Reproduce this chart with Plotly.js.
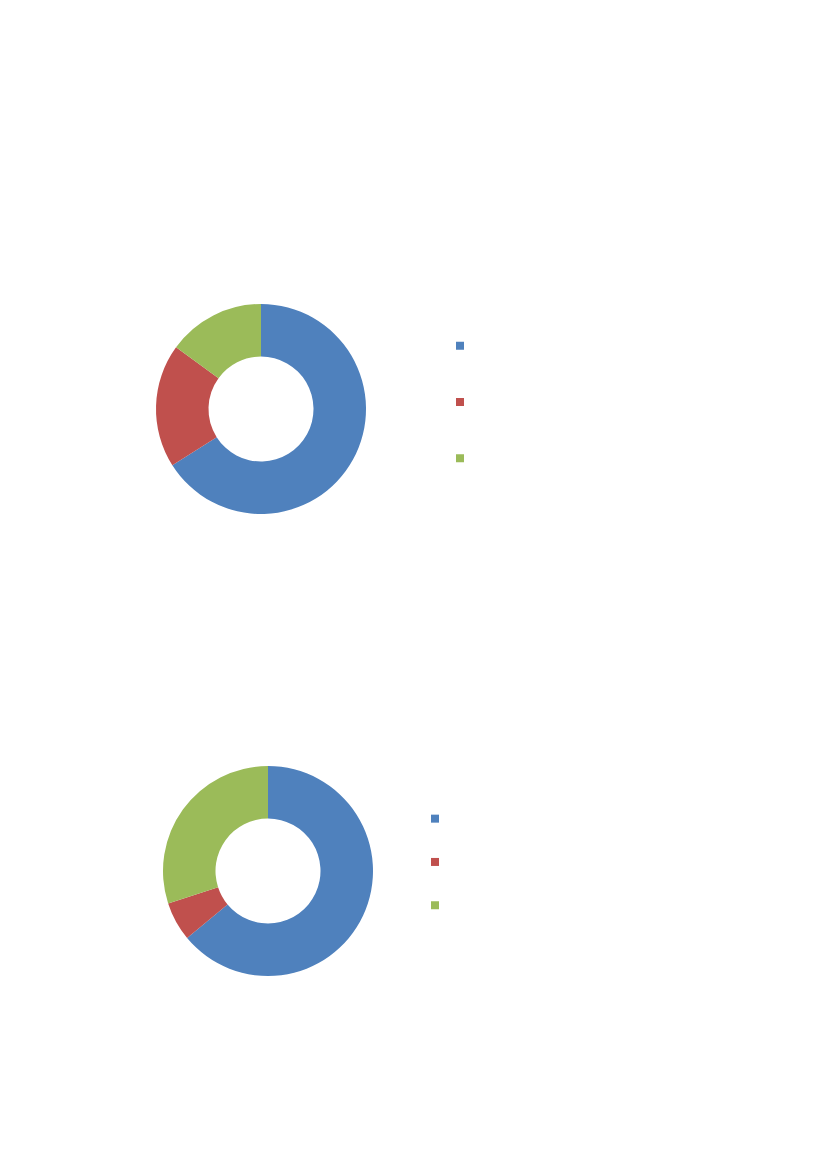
<!DOCTYPE html>
<html>
<head>
<meta charset="utf-8">
<script src="https://cdn.plot.ly/plotly-3.0.1.min.js"></script>
<style>
  html, body { margin: 0; padding: 0; background: #ffffff; }
  #chart { width: 827px; height: 1169px; }
</style>
</head>
<body>
<div id="chart"></div>
<script>
// the legends in the picture carry no visible text, so the labels are blank
// (pie legends merge equal labels, so each chart gets its own blanks)
var labelsTop = ["\u00a0", "\u00a0\u00a0", "\u00a0\u00a0\u00a0"];
var labelsBottom = ["\u00a0\u00a0\u00a0\u00a0", "\u00a0\u00a0\u00a0\u00a0\u00a0", "\u00a0\u00a0\u00a0\u00a0\u00a0\u00a0"];
var colors = ["#4F81BD", "#C0504D", "#9BBB59"];

var valuesTop = [66, 19, 15];
var valuesBottom = [64, 6, 30];

var W = 827, H = 1169;

// pixel box -> paper domain
function dom(left, topPx, size) {
    return {
        x: [left / W, (left + size) / W],
        y: [1 - (topPx + size) / H, 1 - topPx / H]
    };
}

var pieTop = {
    type: "pie",
    labels: labelsTop,
    values: valuesTop,
    hole: 0.5,
    sort: false,
    direction: "clockwise",
    rotation: 0,
    textinfo: "none",
    hoverinfo: "none",
    marker: {colors: colors, line: {width: 0}},
    domain: dom(156, 304, 210),
    legend: "legend"
};

var pieBottom = {
    type: "pie",
    labels: labelsBottom,
    values: valuesBottom,
    hole: 0.5,
    sort: false,
    direction: "clockwise",
    rotation: 0,
    textinfo: "none",
    hoverinfo: "none",
    marker: {colors: colors, line: {width: 0}},
    domain: dom(163, 766, 210),
    legend: "legend2"
};

var layout = {
    width: W,
    height: H,
    margin: {l: 0, r: 0, t: 0, b: 0},
    paper_bgcolor: "#ffffff",
    showlegend: true,
    font: {family: "Liberation Sans, Arial, sans-serif", color: "#000000"},
    legend: {
        x: 440 / W, xanchor: "left",
        y: 1 - 402 / H, yanchor: "middle",
        font: {size: 41},
        bgcolor: "rgba(0,0,0,0)"
    },
    legend2: {
        x: 415 / W, xanchor: "left",
        y: 1 - 862 / H, yanchor: "middle",
        font: {size: 31},
        bgcolor: "rgba(0,0,0,0)"
    }
};

Plotly.newPlot("chart", [pieTop, pieBottom], layout, {displayModeBar: false, staticPlot: true})
    .then(function (gd) {
        // legend squares in the picture are ~8px, plotly draws 12px
        gd.querySelectorAll(".legendpoints path").forEach(function (p) {
            p.setAttribute("d", "M4,4H-4V-4H4Z");
        });
    });
</script>
</body>
</html>
